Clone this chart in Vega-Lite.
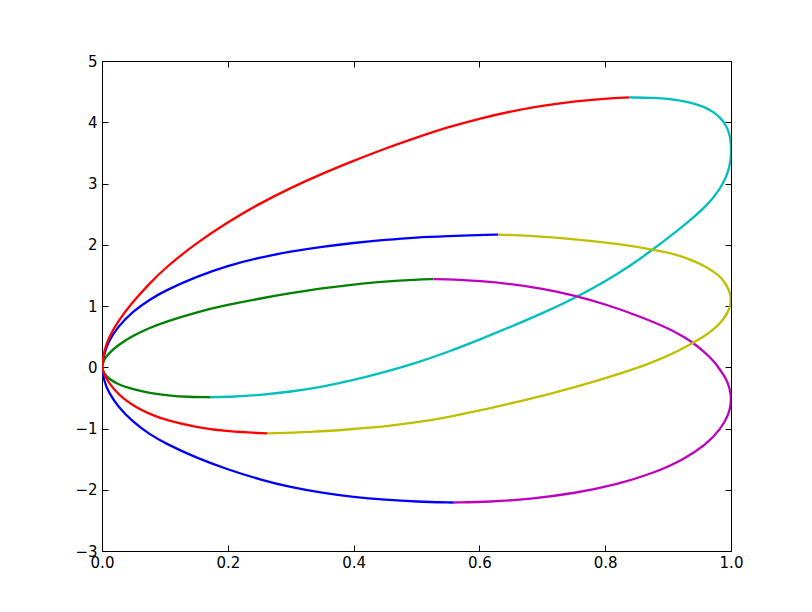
{
"$schema": "https://vega.github.io/schema/vega-lite/v6.json",
"width": 629, "height": 490,
"autosize": {"type": "none"},
"padding": {"left": 102, "top": 61, "right": 81, "bottom": 61},
"background": "white",
"config": {
 "view": {"stroke": "black", "strokeWidth": 1},
 "axis": {"domain": false, "grid": false, "tickColor": "black", "tickWidth": 1, "tickSize": -6, "labelColor": "black", "labelFont": "DejaVu Sans", "labelFontSize": 15, "labelFlush": false, "labelOverlap": false, "title": null}
},
"datasets": {"pts": [
{"s":"s1","i":0,"x":0,"y":0},{"s":"s1","i":1,"x":0.003,"y":0.2},{"s":"s1","i":2,"x":0.01,"y":0.42},{"s":"s1","i":3,"x":0.025,"y":0.66},{"s":"s1","i":4,"x":0.05,"y":0.92},{"s":"s1","i":5,"x":0.075,"y":1.10},{"s":"s1","i":6,"x":0.1,"y":1.25},{"s":"s1","i":7,"x":0.15,"y":1.48},{"s":"s1","i":8,"x":0.2,"y":1.66},{"s":"s1","i":9,"x":0.25,"y":1.79},{"s":"s1","i":10,"x":0.3,"y":1.89},{"s":"s1","i":11,"x":0.35,"y":1.97},{"s":"s1","i":12,"x":0.4,"y":2.03},{"s":"s1","i":13,"x":0.45,"y":2.08},{"s":"s1","i":14,"x":0.5,"y":2.12},{"s":"s1","i":15,"x":0.55,"y":2.14},{"s":"s1","i":16,"x":0.6,"y":2.16},{"s":"s1","i":17,"x":0.63,"y":2.165},
{"s":"s2","i":0,"x":0,"y":0},{"s":"s2","i":1,"x":0.003,"y":0.12},{"s":"s2","i":2,"x":0.01,"y":0.22},{"s":"s2","i":3,"x":0.025,"y":0.36},{"s":"s2","i":4,"x":0.05,"y":0.52},{"s":"s2","i":5,"x":0.075,"y":0.64},{"s":"s2","i":6,"x":0.1,"y":0.74},{"s":"s2","i":7,"x":0.15,"y":0.90},{"s":"s2","i":8,"x":0.2,"y":1.02},{"s":"s2","i":9,"x":0.25,"y":1.12},{"s":"s2","i":10,"x":0.3,"y":1.21},{"s":"s2","i":11,"x":0.35,"y":1.29},{"s":"s2","i":12,"x":0.4,"y":1.35},{"s":"s2","i":13,"x":0.45,"y":1.40},{"s":"s2","i":14,"x":0.5,"y":1.43},{"s":"s2","i":15,"x":0.527,"y":1.44},
{"s":"s3","i":0,"x":0,"y":0},{"s":"s3","i":1,"x":0.003,"y":0.26},{"s":"s3","i":2,"x":0.01,"y":0.47},{"s":"s3","i":3,"x":0.025,"y":0.75},{"s":"s3","i":4,"x":0.05,"y":1.08},{"s":"s3","i":5,"x":0.075,"y":1.36},{"s":"s3","i":6,"x":0.1,"y":1.62},{"s":"s3","i":7,"x":0.15,"y":2.03},{"s":"s3","i":8,"x":0.2,"y":2.37},{"s":"s3","i":9,"x":0.25,"y":2.67},{"s":"s3","i":10,"x":0.3,"y":2.93},{"s":"s3","i":11,"x":0.35,"y":3.16},{"s":"s3","i":12,"x":0.4,"y":3.37},{"s":"s3","i":13,"x":0.45,"y":3.57},{"s":"s3","i":14,"x":0.5,"y":3.75},{"s":"s3","i":15,"x":0.55,"y":3.92},{"s":"s3","i":16,"x":0.6,"y":4.06},{"s":"s3","i":17,"x":0.65,"y":4.18},{"s":"s3","i":18,"x":0.7,"y":4.27},{"s":"s3","i":19,"x":0.75,"y":4.34},{"s":"s3","i":20,"x":0.8,"y":4.388},{"s":"s3","i":21,"x":0.838,"y":4.405},
{"s":"s4","i":0,"x":0.838,"y":4.405},{"s":"s4","i":1,"x":0.8785,"y":4.401},{"s":"s4","i":2,"x":0.9006,"y":4.386},{"s":"s4","i":3,"x":0.9375,"y":4.321},{"s":"s4","i":4,"x":0.9568,"y":4.254},{"s":"s4","i":5,"x":0.9723,"y":4.169},{"s":"s4","i":6,"x":0.9844,"y":4.063},{"s":"s4","i":7,"x":0.9930,"y":3.935},{"s":"s4","i":8,"x":0.9975,"y":3.811},{"s":"s4","i":9,"x":0.9994,"y":3.697},{"s":"s4","i":10,"x":1.0,"y":3.599},{"s":"s4","i":11,"x":1.0,"y":3.514},{"s":"s4","i":12,"x":0.99945,"y":3.400},{"s":"s4","i":13,"x":0.99765,"y":3.286},{"s":"s4","i":14,"x":0.99448,"y":3.171},{"s":"s4","i":15,"x":0.9899,"y":3.057},{"s":"s4","i":16,"x":0.98386,"y":2.943},{"s":"s4","i":17,"x":0.97636,"y":2.828},{"s":"s4","i":18,"x":0.96733,"y":2.714},{"s":"s4","i":19,"x":0.9587,"y":2.62},{"s":"s4","i":20,"x":0.9428,"y":2.469},{"s":"s4","i":21,"x":0.9269,"y":2.331},{"s":"s4","i":22,"x":0.9110,"y":2.200},{"s":"s4","i":23,"x":0.8951,"y":2.074},{"s":"s4","i":24,"x":0.8712,"y":1.890},{"s":"s4","i":25,"x":0.8401,"y":1.656},{"s":"s4","i":26,"x":0.80,"y":1.40},{"s":"s4","i":27,"x":0.75,"y":1.12},{"s":"s4","i":28,"x":0.70,"y":0.88},{"s":"s4","i":29,"x":0.65,"y":0.66},{"s":"s4","i":30,"x":0.60,"y":0.45},{"s":"s4","i":31,"x":0.55,"y":0.25},{"s":"s4","i":32,"x":0.50,"y":0.07},{"s":"s4","i":33,"x":0.45,"y":-0.08},{"s":"s4","i":34,"x":0.40,"y":-0.21},{"s":"s4","i":35,"x":0.35,"y":-0.32},{"s":"s4","i":36,"x":0.30,"y":-0.40},{"s":"s4","i":37,"x":0.25,"y":-0.455},{"s":"s4","i":38,"x":0.21,"y":-0.48},{"s":"s4","i":39,"x":0.172,"y":-0.49},
{"s":"s5","i":0,"x":0.527,"y":1.44},{"s":"s5","i":1,"x":0.56,"y":1.435},{"s":"s5","i":2,"x":0.6,"y":1.41},{"s":"s5","i":3,"x":0.65,"y":1.36},{"s":"s5","i":4,"x":0.7,"y":1.285},{"s":"s5","i":5,"x":0.75,"y":1.175},{"s":"s5","i":6,"x":0.8,"y":1.03},{"s":"s5","i":7,"x":0.85,"y":0.85},{"s":"s5","i":8,"x":0.9,"y":0.64},{"s":"s5","i":9,"x":0.928,"y":0.48},{"s":"s5","i":10,"x":0.942,"y":0.38},{"s":"s5","i":11,"x":0.954,"y":0.28},{"s":"s5","i":12,"x":0.965,"y":0.18},{"s":"s5","i":13,"x":0.974,"y":0.08},{"s":"s5","i":14,"x":0.981,"y":-0.02},{"s":"s5","i":15,"x":0.988,"y":-0.12},{"s":"s5","i":16,"x":0.9935,"y":-0.22},{"s":"s5","i":17,"x":0.997,"y":-0.32},{"s":"s5","i":18,"x":0.9993,"y":-0.42},{"s":"s5","i":19,"x":1.0,"y":-0.518},{"s":"s5","i":20,"x":0.999,"y":-0.65},{"s":"s5","i":21,"x":0.9959,"y":-0.776},{"s":"s5","i":22,"x":0.9836,"y":-1.013},{"s":"s5","i":23,"x":0.9604,"y":-1.263},{"s":"s5","i":24,"x":0.9235,"y":-1.514},{"s":"s5","i":25,"x":0.8758,"y":-1.733},{"s":"s5","i":26,"x":0.8183,"y":-1.916},{"s":"s5","i":27,"x":0.7526,"y":-2.056},{"s":"s5","i":28,"x":0.68,"y":-2.153},{"s":"s5","i":29,"x":0.6176,"y":-2.197},{"s":"s5","i":30,"x":0.558,"y":-2.208},
{"s":"s6","i":0,"x":0.63,"y":2.165},{"s":"s6","i":1,"x":0.68,"y":2.15},{"s":"s6","i":2,"x":0.73,"y":2.11},{"s":"s6","i":3,"x":0.78,"y":2.06},{"s":"s6","i":4,"x":0.83,"y":2.00},{"s":"s6","i":5,"x":0.876,"y":1.92},{"s":"s6","i":6,"x":0.90,"y":1.87},{"s":"s6","i":7,"x":0.919,"y":1.82},{"s":"s6","i":8,"x":0.94,"y":1.74},{"s":"s6","i":9,"x":0.961,"y":1.64},{"s":"s6","i":10,"x":0.981,"y":1.5},{"s":"s6","i":11,"x":0.989,"y":1.4},{"s":"s6","i":12,"x":0.995,"y":1.3},{"s":"s6","i":13,"x":0.9988,"y":1.2},{"s":"s6","i":14,"x":1.0,"y":1.1},{"s":"s6","i":15,"x":0.9988,"y":1.0},{"s":"s6","i":16,"x":0.995,"y":0.9},{"s":"s6","i":17,"x":0.989,"y":0.8},{"s":"s6","i":18,"x":0.981,"y":0.7},{"s":"s6","i":19,"x":0.970,"y":0.6},{"s":"s6","i":20,"x":0.955,"y":0.49},{"s":"s6","i":21,"x":0.94,"y":0.40},{"s":"s6","i":22,"x":0.919,"y":0.28},{"s":"s6","i":23,"x":0.876,"y":0.08},{"s":"s6","i":24,"x":0.84,"y":-0.05},{"s":"s6","i":25,"x":0.797,"y":-0.19},{"s":"s6","i":26,"x":0.75,"y":-0.33},{"s":"s6","i":27,"x":0.718,"y":-0.42},{"s":"s6","i":28,"x":0.678,"y":-0.52},{"s":"s6","i":29,"x":0.64,"y":-0.615},{"s":"s6","i":30,"x":0.60,"y":-0.71},{"s":"s6","i":31,"x":0.543,"y":-0.83},{"s":"s6","i":32,"x":0.5,"y":-0.90},{"s":"s6","i":33,"x":0.463,"y":-0.95},{"s":"s6","i":34,"x":0.40,"y":-1.01},{"s":"s6","i":35,"x":0.331,"y":-1.06},{"s":"s6","i":36,"x":0.263,"y":-1.08},
{"s":"s7","i":0,"x":0.558,"y":-2.208},{"s":"s7","i":1,"x":0.5,"y":-2.195},{"s":"s7","i":2,"x":0.45,"y":-2.165},{"s":"s7","i":3,"x":0.4,"y":-2.12},{"s":"s7","i":4,"x":0.35,"y":-2.05},{"s":"s7","i":5,"x":0.3,"y":-1.96},{"s":"s7","i":6,"x":0.25,"y":-1.83},{"s":"s7","i":7,"x":0.2,"y":-1.67},{"s":"s7","i":8,"x":0.15,"y":-1.48},{"s":"s7","i":9,"x":0.1,"y":-1.24},{"s":"s7","i":10,"x":0.075,"y":-1.09},{"s":"s7","i":11,"x":0.05,"y":-0.90},{"s":"s7","i":12,"x":0.025,"y":-0.64},{"s":"s7","i":13,"x":0.01,"y":-0.40},{"s":"s7","i":14,"x":0.003,"y":-0.22},{"s":"s7","i":15,"x":0,"y":0},
{"s":"s8","i":0,"x":0.172,"y":-0.49},{"s":"s8","i":1,"x":0.137,"y":-0.485},{"s":"s8","i":2,"x":0.105,"y":-0.46},{"s":"s8","i":3,"x":0.075,"y":-0.42},{"s":"s8","i":4,"x":0.05,"y":-0.36},{"s":"s8","i":5,"x":0.025,"y":-0.28},{"s":"s8","i":6,"x":0.01,"y":-0.18},{"s":"s8","i":7,"x":0.003,"y":-0.10},{"s":"s8","i":8,"x":0,"y":0},
{"s":"s9","i":0,"x":0.263,"y":-1.08},{"s":"s9","i":1,"x":0.2,"y":-1.05},{"s":"s9","i":2,"x":0.15,"y":-0.98},{"s":"s9","i":3,"x":0.1,"y":-0.86},{"s":"s9","i":4,"x":0.075,"y":-0.76},{"s":"s9","i":5,"x":0.052,"y":-0.64},{"s":"s9","i":6,"x":0.035,"y":-0.52},{"s":"s9","i":7,"x":0.02,"y":-0.38},{"s":"s9","i":8,"x":0.005,"y":-0.17},{"s":"s9","i":9,"x":0,"y":0}
]},
"data": {"name": "pts"},
"layer": [
 {
  "mark": {"type": "line", "interpolate": "basis", "strokeWidth": 2.3, "clip": true},
  "encoding": {
   "x": {"field": "x", "type": "quantitative", "scale": {"domain": [0, 1], "nice": false, "zero": false},
         "axis": {"orient": "bottom", "values": [0, 0.2, 0.4, 0.6, 0.8, 1], "format": ".1f", "labelPadding": 10}},
   "y": {"field": "y", "type": "quantitative", "scale": {"domain": [-3, 5], "nice": false, "zero": false},
         "axis": {"orient": "left", "values": [-3, -2, -1, 0, 1, 2, 3, 4, 5], "format": "d", "labelPadding": 11}},
   "color": {"field": "s", "type": "nominal", "legend": null,
             "scale": {"domain": ["s1","s2","s3","s4","s5","s6","s7","s8","s9"],
                       "range": ["#0000ff","#008000","#ff0000","#00bfbf","#bf00bf","#bfbf00","#0000ff","#008000","#ff0000"]}},
   "order": {"field": "i", "type": "quantitative"}
  }
 },
 {
  "mark": {"type": "point", "opacity": 0},
  "encoding": {
   "x": {"field": "x", "type": "quantitative", "scale": {"domain": [0, 1], "nice": false, "zero": false},
         "axis": {"orient": "top", "values": [0, 0.2, 0.4, 0.6, 0.8, 1], "labels": false}},
   "y": {"field": "y", "type": "quantitative", "scale": {"domain": [-3, 5], "nice": false, "zero": false},
         "axis": {"orient": "right", "values": [-3, -2, -1, 0, 1, 2, 3, 4, 5], "labels": false}}
  }
 }
],
"resolve": {"scale": {"x": "independent", "y": "independent"}}
}
